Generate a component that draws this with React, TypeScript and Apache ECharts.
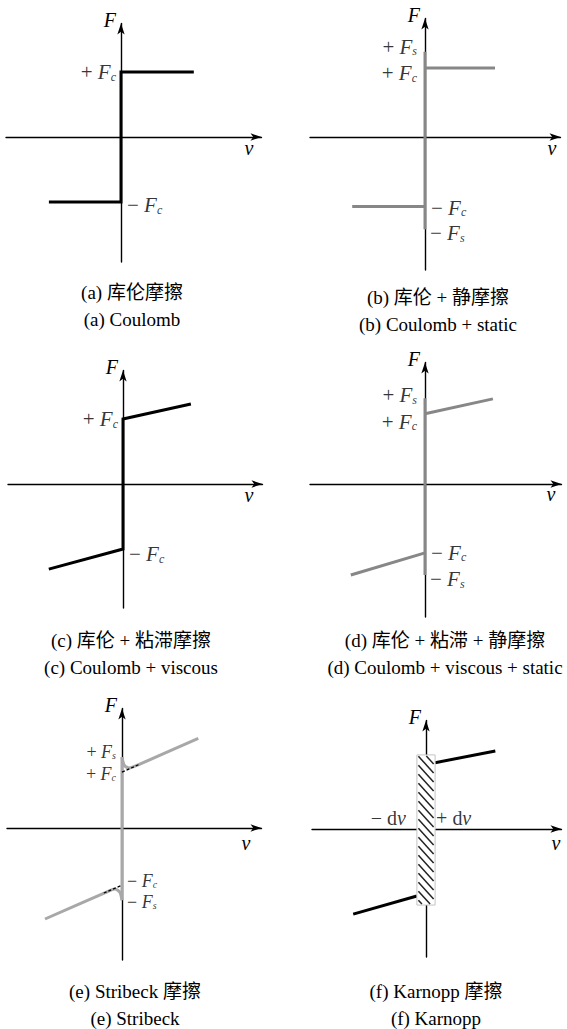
import React, { useEffect, useRef } from "react";
import * as echarts from "echarts";

const SERIF = "'Liberation Serif', 'Times New Roman', 'Noto Sans CJK SC', serif";
const SX = 70; // px per velocity unit
const SY = 65; // px per force unit

// ---------- data (force vs velocity, normalized units) ----------
// (a) Coulomb
const coulombA = [[-1.03, -1.0], [0, -1.0], [0, 1.0], [1.04, 1.0]];
// (b) Coulomb + static
const staticB_stick = [[0, -1.42], [0, 1.31]];
const staticB_pos = [[0, 1.06], [1.0, 1.06]];
const staticB_neg = [[-1.04, -1.07], [0, -1.07]];
// (c) Coulomb + viscous
const viscousC = [[-1.06, -1.31], [0, -1.0], [0, 1.0], [0.97, 1.23]];
// (d) Coulomb + viscous + static
const staticD_stick = [[0, -1.4], [0, 1.32]];
const viscousD_pos = [[0, 1.08], [0.97, 1.31]];
const viscousD_neg = [[-1.06, -1.4], [0, -1.06]];
// (e) Stribeck
const stribeckE_stick = [[0, -1.11], [0, 1.09]];
const stribeckE_pos = [[0, 1.09], [0.014, 1.02], [0.03, 0.97], [0.057, 0.94], [0.1, 0.925], [0.157, 0.94], [0.23, 0.97], [1.09, 1.38]];
const stribeckE_neg = [[-1.1, -1.4], [-0.23, -0.99], [-0.157, -0.955], [-0.1, -0.94], [-0.057, -0.96], [-0.03, -0.99], [-0.014, -1.04], [0, -1.11]];
const stribeckE_asymPos = [[0, 0.86], [0.26, 0.985]];
const stribeckE_asymNeg = [[-0.26, -1.0], [0, -0.88]];
// (f) Karnopp
const karnoppBand = [[-0.13, 1.14, 0.13, -1.17]];
const karnoppF_pos = [[0.13, 1.02], [0.99, 1.2]];
const karnoppF_neg = [[-1.04, -1.31], [-0.13, -1.03]];

// value labels: text key, anchor value
const labelsA = [
  { t: "+Fc", at: [0, 1.0], side: "left", dist: 5, dy: 0 },
  { t: "-Fc", at: [0, -1.0], side: "right", dist: 6, dy: 3 },
];
const labelsB = [
  { t: "+Fs", at: [0, 1.31], side: "left", dist: 8, dy: -5 },
  { t: "+Fc", at: [0, 1.06], side: "left", dist: 8, dy: 5 },
  { t: "-Fc", at: [0, -1.07], side: "right", dist: 6, dy: 1 },
  { t: "-Fs", at: [0, -1.42], side: "right", dist: 5, dy: 4 },
];
const labelsC = [
  { t: "+Fc", at: [0, 1.0], side: "left", dist: 5, dy: 0 },
  { t: "-Fc", at: [0, -1.0], side: "right", dist: 6, dy: 5 },
];
const labelsD = [
  { t: "+Fs", at: [0, 1.32], side: "left", dist: 8, dy: -3 },
  { t: "+Fc", at: [0, 1.08], side: "left", dist: 8, dy: 8 },
  { t: "-Fc", at: [0, -1.06], side: "right", dist: 6, dy: 0 },
  { t: "-Fs", at: [0, -1.4], side: "right", dist: 5, dy: 4 },
];
const labelsE = [
  { t: "+Fs", at: [0, 1.09], side: "left", dist: 6, dy: -5 },
  { t: "+Fc", at: [0, 0.86], side: "left", dist: 6, dy: 2 },
  { t: "-Fc", at: [0, -0.88], side: "right", dist: 5, dy: -4 },
  { t: "-Fs", at: [0, -1.11], side: "right", dist: 5, dy: 2 },
];
const labelsF = [
  { t: "-dv", at: [-0.13, 0.17], side: "left", dist: 11, dy: 0 },
  { t: "+dv", at: [0.13, 0.17], side: "right", dist: 1, dy: 0 },
];

const captions = [
  ["(a) 库伦摩擦", "(a) Coulomb"],
  ["(b) 库伦 + 静摩擦", "(b) Coulomb + static"],
  ["(c) 库伦 + 粘滞摩擦", "(c) Coulomb + viscous"],
  ["(d) 库伦 + 粘滞 + 静摩擦", "(d) Coulomb + viscous + static"],
  ["(e) Stribeck 摩擦", "(e) Stribeck"],
  ["(f) Karnopp 摩擦", "(f) Karnopp"],
];

// ---------- layout (pixels) ----------
const panels = [
  { ox: 121, oy: 137, left: 6, right: 261.5, top: 23.5, bottom: 262, vGap: -8, vDy: 13, capX: 132, capY: 279 },
  { ox: 425, oy: 137, left: 310, right: 560.5, top: 18.5, bottom: 270, vGap: -4, vDy: 13, capX: 438, capY: 284 },
  { ox: 123, oy: 484, left: 8, right: 262.5, top: 370.5, bottom: 608, vGap: -9, vDy: 13, capX: 131, capY: 627 },
  { ox: 425, oy: 484, left: 310, right: 561.5, top: 362.5, bottom: 617, vGap: -6, vDy: 11, capX: 445, capY: 627 },
  { ox: 122, oy: 828, left: 7, right: 261.5, top: 708.5, bottom: 960, vGap: -11, vDy: 17, capX: 135, capY: 978 },
  { ox: 426, oy: 829, left: 312, right: 561.5, top: 720.5, bottom: 957, vGap: -1, vDy: 16, capX: 436, capY: 978 },
];

const TEX: Record<string, string> = {
  "+Fc": "{n|+ }{i|F}{s|c}",
  "-Fc": "{n|\u2212 }{i|F}{s|c}",
  "+Fs": "{n|+ }{i|F}{s|s}",
  "-Fs": "{n|\u2212 }{i|F}{s|s}",
  "-dv": "{n|\u2212 d}{i|v}",
  "+dv": "{n|+ d}{i|v}",
};

function makeRich(size: number) {
  const sub = Math.round(size * 0.58);
  return {
    n: { fontFamily: SERIF, fontSize: size, lineHeight: 17, color: "#000" },
    i: { fontFamily: SERIF, fontStyle: "italic", fontSize: size, lineHeight: 17, color: "#000" },
    s: {
      fontFamily: SERIF,
      fontStyle: "italic",
      fontSize: sub,
      lineHeight: 6,
      verticalAlign: "top",
      padding: [7, 0, 0, 0],
      color: "#000",
    },
  };
}

const BLACK = "#000";
const GRAY = "#878787";
const LIGHT = "#a8a8a8";

function line(idx: number, data: number[][], color: string, width: number, extra: any = {}) {
  return {
    type: "line",
    xAxisIndex: idx,
    yAxisIndex: idx,
    data,
    symbol: "none",
    showSymbol: false,
    silent: true,
    lineStyle: { color, width, cap: "butt", join: "miter", ...(extra.lineStyle || {}) },
    smooth: extra.smooth || false,
    z: extra.z || 3,
  };
}

function labelSeries(idx: number, labels: any[], size = 21) {
  const rich = makeRich(size);
  return {
    type: "scatter",
    xAxisIndex: idx,
    yAxisIndex: idx,
    symbolSize: 0,
    silent: true,
    z: 6,
    itemStyle: { color: "#000" },
    data: labels.map((l) => ({
      value: l.at,
      label: {
        show: true,
        position: l.side,
        distance: l.dist,
        offset: [0, l.dy],
        formatter: TEX[l.t],
        color: "#000",
        fontFamily: SERIF,
        fontSize: size,
        lineHeight: 17,
        rich,
      },
    })),
  };
}

function hatchSeries(idx: number) {
  return {
    type: "custom",
    xAxisIndex: idx,
    yAxisIndex: idx,
    data: karnoppBand,
    encode: { x: [0, 2], y: [1, 3] },
    silent: true,
    z: 4,
    renderItem: (params: any, api: any) => {
      const p0 = api.coord([api.value(0), api.value(1)]);
      const p1 = api.coord([api.value(2), api.value(3)]);
      const x0 = Math.min(p0[0], p1[0]);
      const x1 = Math.max(p0[0], p1[0]);
      const y0 = Math.min(p0[1], p1[1]);
      const y1 = Math.max(p0[1], p1[1]);
      const w = x1 - x0;
      const children: any[] = [
        { type: "rect", shape: { x: x0, y: y0, width: w, height: y1 - y0 }, style: { fill: "#fff", stroke: "#c4c4c4", lineWidth: 1 } },
      ];
      const step = 9;
      const slope = 1.1;
      const ix0 = x0 + 1.5;
      const ix1 = x1 - 1.5;
      const iw = ix1 - ix0;
      for (let c = y0 - slope * iw; c < y1; c += step) {
        let xs = ix0;
        let xe = ix1;
        if (c < y0 + 1) xs = ix0 + (y0 + 1 - c) / slope;
        if (c + slope * iw > y1 - 1) xe = ix0 + (y1 - 1 - c) / slope;
        if (xe - xs < 1) continue;
        children.push({
          type: "line",
          shape: { x1: xs, y1: c + slope * (xs - ix0), x2: xe, y2: c + slope * (xe - ix0) },
          style: { stroke: "#222", lineWidth: 1.5 },
        });
      }
      return { type: "group", children };
    },
  };
}

export default function App() {
  const ref = useRef<HTMLDivElement>(null);
  useEffect(() => {
    if (!ref.current) return;
    const chart = echarts.init(ref.current, undefined, { renderer: "svg" });

    const grid = panels.map((p) => ({
      left: p.left,
      top: p.top,
      width: p.right - p.left,
      height: p.bottom - p.top,
      containLabel: false,
      outerBoundsMode: "none",
    }));

    const axisLine = {
      show: true,
      onZero: true,
      symbol: ["none", "arrow"],
      symbolSize: [5.5, 11],
      lineStyle: { color: "#000", width: 1.4 },
    };

    const xAxis = panels.map((p, i) => ({
      type: "value",
      gridIndex: i,
      min: (p.left - p.ox) / SX,
      max: (p.right - p.ox) / SX,
      axisLine,
      axisTick: { show: false },
      axisLabel: { show: false },
      splitLine: { show: false },
      name: "v",
      nameLocation: "end",
      nameGap: p.vGap,
      nameTextStyle: {
        fontFamily: SERIF,
        fontStyle: "italic",
        fontSize: 20,
        color: "#000",
        align: "right",
        verticalAlign: "top",
        padding: [Math.max(0, p.vDy - 12), 0, 0, 0],
      },
    }));

    const yAxis = panels.map((p, i) => ({
      type: "value",
      gridIndex: i,
      min: -(p.bottom - p.oy) / SY,
      max: (p.oy - p.top) / SY,
      axisLine,
      axisTick: { show: false },
      axisLabel: { show: false },
      splitLine: { show: false },
      name: "F",
      nameLocation: "end",
      nameGap: 4,
      nameTextStyle: {
        fontFamily: SERIF,
        fontStyle: "italic",
        fontSize: 20,
        color: "#000",
        align: "right",
        verticalAlign: "middle",
        padding: [0, 5, 0, 0],
      },
    }));

    const dash = { lineStyle: { type: [3, 2] }, z: 5 };

    const series: any[] = [
      line(0, coulombA, BLACK, 3),
      labelSeries(0, labelsA),

      line(1, staticB_stick, GRAY, 3),
      line(1, staticB_pos, GRAY, 3),
      line(1, staticB_neg, GRAY, 3),
      labelSeries(1, labelsB),

      line(2, viscousC, BLACK, 3),
      labelSeries(2, labelsC),

      line(3, staticD_stick, GRAY, 3),
      line(3, viscousD_pos, GRAY, 3),
      line(3, viscousD_neg, GRAY, 3),
      labelSeries(3, labelsD),

      line(4, stribeckE_stick, LIGHT, 3),
      line(4, stribeckE_pos, LIGHT, 3, { smooth: 0.3 }),
      line(4, stribeckE_neg, LIGHT, 3, { smooth: 0.3 }),
      line(4, stribeckE_asymPos, BLACK, 1.3, dash),
      line(4, stribeckE_asymNeg, BLACK, 1.3, dash),
      labelSeries(4, labelsE, 18),

      hatchSeries(5),
      line(5, karnoppF_pos, BLACK, 3),
      line(5, karnoppF_neg, BLACK, 3),
      labelSeries(5, labelsF, 20),
    ];

    const graphic = panels.map((p, i) => ({
      type: "text",
      x: p.capX,
      y: p.capY,
      silent: true,
      style: {
        text: captions[i].join("\n"),
        fill: "#000",
        fontFamily: SERIF,
        fontSize: 19,
        lineHeight: 27,
        align: "center",
        verticalAlign: "top",
      },
    }));

    chart.setOption({
      animation: false,
      backgroundColor: "#fff",
      grid,
      xAxis,
      yAxis,
      series,
      graphic,
    });

    return () => chart.dispose();
  }, []);

  return (
    <div
      ref={ref}
      style={{ position: "fixed", left: 0, top: 0, width: 567, height: 1029, background: "#fff" }}
    />
  );
}
